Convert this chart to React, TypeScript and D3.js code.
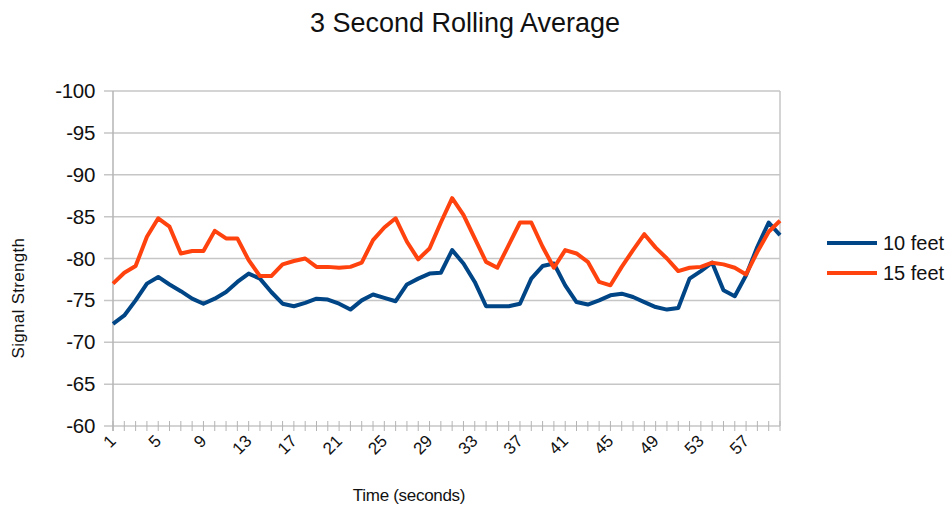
import { line, range, scaleLinear, scalePoint } from "d3";

// seconds along the x axis
const categories = range(1, 61);
const xTickLabels = ["1", "5", "9", "13", "17", "21", "25", "29", "33", "37", "41", "45", "49", "53", "57"];
const yTicks = [-100, -95, -90, -85, -80, -75, -70, -65, -60];

const seriesNames = ["10 feet", "15 feet"];
const seriesColors = ["#004586", "#ff420e"];

const tenFeet = [
    -72.2, -73.2, -75.0, -77.0, -77.8, -76.9, -76.1, -75.2, -74.6, -75.2,
    -76.0, -77.2, -78.2, -77.6, -76.0, -74.6, -74.3, -74.7, -75.2, -75.1,
    -74.6, -73.9, -75.0, -75.7, -75.3, -74.9, -76.9, -77.6, -78.2, -78.3,
    -81.0, -79.4, -77.2, -74.3, -74.3, -74.3, -74.6, -77.6, -79.1, -79.4,
    -76.8, -74.8, -74.5, -75.0, -75.6, -75.8, -75.4, -74.8, -74.2, -73.9,
    -74.1, -77.6, -78.5, -79.5, -76.2, -75.5, -78.0, -81.4, -84.3, -82.8,
];
const fifteenFeet = [
    -77.0, -78.3, -79.1, -82.6, -84.8, -83.8, -80.6, -80.9, -80.9, -83.3,
    -82.4, -82.4, -79.8, -77.9, -77.9, -79.3, -79.7, -80.0, -79.0, -79.0,
    -78.9, -79.0, -79.5, -82.2, -83.7, -84.8, -82.0, -79.9, -81.2, -84.3,
    -87.2, -85.2, -82.4, -79.6, -78.9, -81.6, -84.3, -84.3, -81.4, -78.9,
    -81.0, -80.6, -79.6, -77.2, -76.8, -79.0, -81.0, -82.9, -81.3, -80.0,
    -78.5, -78.9, -79.0, -79.5, -79.3, -78.9, -78.1, -80.8, -83.2, -84.5,
];

const W = 948;
const H = 508;
const left = 113;
const right = 780;
const top = 91;
const bottom = 426;
const font = "'Liberation Sans', Arial, sans-serif";

function App() {
    const x = scalePoint<number>().domain(categories).range([left, right]);
    const y = scaleLinear().domain([-100, -60]).range([top, bottom]);

    const path = line<number>()
        .x((d, i) => x(categories[i]) as number)
        .y((d) => y(d));

    const series = [tenFeet, fifteenFeet];

    return (
        <svg
            width={W}
            height={H}
            style={{ position: "absolute", left: 0, top: 0, background: "#fff" }}
            fontFamily={font}
        >
            <text x={465} y={32} textAnchor="middle" fontSize={27} fill="#111">
                3 Second Rolling Average
            </text>

            {/* grid + y ticks */}
            {yTicks.map((t) => (
                <g key={t}>
                    <line x1={left - 9} x2={right} y1={y(t)} y2={y(t)} stroke="#c6c6c6" strokeWidth={1.5} />
                    <text x={95} y={y(t) + 7} textAnchor="end" fontSize={20.5} fill="#111" letterSpacing={-0.3}>
                        {t}
                    </text>
                </g>
            ))}
            <line x1={left} x2={left} y1={top} y2={bottom + 5} stroke="#b4b4b4" strokeWidth={1.5} />
            <line x1={right} x2={right} y1={top} y2={bottom} stroke="#c6c6c6" strokeWidth={1.5} />

            {/* x minor ticks */}
            {categories.map((c) => (
                <line key={c} x1={x(c)} x2={x(c)} y1={bottom - 5} y2={bottom + 5} stroke="#b4b4b4" strokeWidth={1} />
            ))}
            {xTickLabels.map((l) => {
                const px = (x(+l) as number) + 4;
                const py = bottom + 16;
                return (
                    <text
                        key={l}
                        x={px}
                        y={py}
                        textAnchor="end"
                        fontSize={17}
                        fill="#111"
                        transform={`rotate(-45 ${px} ${py})`}
                    >
                        {l}
                    </text>
                );
            })}

            {series.map((s, i) => (
                <path
                    key={seriesNames[i]}
                    d={path(s) || ""}
                    fill="none"
                    stroke={seriesColors[i]}
                    strokeWidth={4}
                    strokeLinejoin="round"
                />
            ))}

            <text x={409} y={501} textAnchor="middle" fontSize={17} fill="#111" letterSpacing={-0.3}>
                Time (seconds)
            </text>
            <text
                x={0}
                y={0}
                textAnchor="middle"
                fontSize={17}
                fill="#111"
                letterSpacing={0.3}
                transform="translate(24 298) rotate(-90)"
            >
                Signal Strength
            </text>

            {/* legend */}
            {seriesNames.map((n, i) => (
                <g key={n} transform={`translate(827 ${243 + i * 30})`}>
                    <line x1={0} x2={50} y1={0} y2={0} stroke={seriesColors[i]} strokeWidth={4} />
                    <text x={56} y={7} fontSize={20} fill="#111">
                        {n}
                    </text>
                </g>
            ))}
        </svg>
    );
}

export default App;
